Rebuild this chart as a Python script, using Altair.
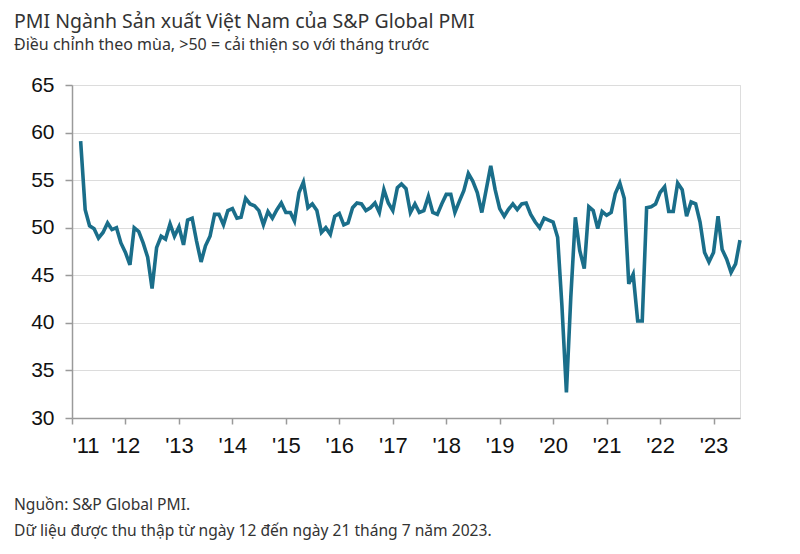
import altair as alt
import pandas as pd

# Monthly Vietnam Manufacturing PMI, Mar 2011 - Jul 2023
start_month = "2011-03-01"
pmi_2011 = [59.1, 51.9, 50.2, 49.9, 48.9, 49.5, 50.5, 49.8, 50.0, 48.4]
pmi_2012 = [47.4, 46.1, 50.0, 49.6, 48.4, 46.9, 43.6, 47.9, 49.1, 48.8, 50.4, 49.1]
pmi_2013 = [50.1, 48.2, 50.8, 51.0, 48.6, 46.4, 48.1, 49.1, 51.4, 51.4, 50.3, 51.8]
pmi_2014 = [52.0, 51.0, 51.1, 53.1, 52.5, 52.3, 51.8, 50.3, 51.7, 51.0, 51.9, 52.6]
pmi_2015 = [51.6, 51.6, 50.7, 53.7, 54.8, 52.1, 52.5, 51.8, 49.5, 50.0, 49.3, 51.2]
pmi_2016 = [51.5, 50.3, 50.5, 52.1, 52.6, 52.5, 51.8, 52.1, 52.6, 51.6, 54.0, 52.6]
pmi_2017 = [51.8, 54.2, 54.6, 54.1, 51.6, 52.5, 51.6, 51.8, 53.3, 51.6, 51.4, 52.5]
pmi_2018 = [53.5, 53.5, 51.6, 52.8, 53.9, 55.7, 54.9, 53.7, 51.6, 54.0, 56.5, 54.0]
pmi_2019 = [52.0, 51.2, 51.9, 52.5, 51.9, 52.5, 52.6, 51.4, 50.6, 50.0, 51.0, 50.8]
pmi_2020 = [50.6, 49.0, 41.9, 32.7, 42.7, 51.1, 47.6, 45.7, 52.2, 51.8, 49.9, 51.7]
pmi_2021 = [51.3, 51.6, 53.6, 54.7, 53.1, 44.1, 45.1, 40.2, 40.2, 52.1, 52.2, 52.5]
pmi_2022 = [53.7, 54.3, 51.7, 51.7, 54.7, 54.0, 51.2, 52.7, 52.5, 50.6, 47.4, 46.4]
pmi_2023 = [47.4, 51.2, 47.7, 46.7, 45.3, 46.2, 48.7]

y_ticks = [30, 35, 40, 45, 50, 55, 60, 65]
x_tick_years = list(range(2011, 2024))

title_text = "PMI Ngành Sản xuất Việt Nam của S&P Global PMI"
subtitle_text = "Điều chỉnh theo mùa, >50 = cải thiện so với tháng trước"
footer_lines = ["Nguồn: S&P Global PMI.",
                "Dữ liệu được thu thập từ ngày 12 đến ngày 21 tháng 7 năm 2023."]

values = (pmi_2011 + pmi_2012 + pmi_2013 + pmi_2014 + pmi_2015 + pmi_2016 +
          pmi_2017 + pmi_2018 + pmi_2019 + pmi_2020 + pmi_2021 + pmi_2022 + pmi_2023)
dates = pd.date_range(start_month, periods=len(values), freq="MS")
df = pd.DataFrame({"date": dates, "pmi": values})

W, H = 668, 333
text_font = "'Noto Sans', 'Open Sans', sans-serif"
num_font = "'Liberation Sans', Arial, sans-serif"
narrow_font = "'Liberation Sans Narrow', 'Arial Narrow', 'Liberation Sans', sans-serif"

line = alt.Chart(df).mark_line(color="#1a6e8a", strokeWidth=3.6, strokeJoin="miter").encode(
    x=alt.X("date:T",
            scale=alt.Scale(domain=[alt.DateTime(year=2011, month=1, date=1),
                                    alt.DateTime(year=2023, month=7, date=1)]),
            axis=alt.Axis(values=[alt.DateTime(year=y, month=1, date=1) for y in x_tick_years],
                          format="'%y", title=None, grid=False,
                          domainColor="#9a9a9a", domainWidth=1.5,
                          tickColor="#9a9a9a", tickSize=6, tickWidth=1.5,
                          labelFont=narrow_font, labelFontSize=22, labelColor="#111",
                          labelPadding=11)),
    y=alt.Y("pmi:Q",
            scale=alt.Scale(domain=[30, 65], nice=False, zero=False),
            axis=alt.Axis(values=y_ticks, title=None, grid=True,
                          gridColor="#dcdcdc", gridWidth=1.2,
                          domainColor="#9a9a9a", domainWidth=1.5,
                          tickColor="#9a9a9a", tickSize=7, tickWidth=1.5,
                          labelFont=num_font, labelFontSize=21, labelColor="#111",
                          labelPadding=11)),
)

footer = alt.Chart(pd.DataFrame({"t": ["\n".join(footer_lines)]})).mark_text(
    align="left", baseline="middle", font=text_font, fontSize=15.6, color="#333",
    lineBreak="\n", lineHeight=26,
).encode(x=alt.value(-58), y=alt.value(420), text="t:N")

chart = alt.layer(line, footer).properties(
    width=W, height=H,
    title=alt.TitleParams(text=title_text, subtitle=subtitle_text, anchor="start",
                          frame="group", dx=-58, offset=20,
                          font=text_font, fontSize=19.5, fontWeight="normal", color="#333",
                          subtitleFont=text_font, subtitleFontSize=16,
                          subtitleColor="#333", subtitlePadding=5),
    autosize=alt.AutoSizeParams(type="none"),
    padding={"left": 64, "top": 77, "right": 40, "bottom": 130},
).configure_view(stroke=None).configure(background="white")

chart.save("out.html", embed_options={"renderer": "svg", "actions": False})
